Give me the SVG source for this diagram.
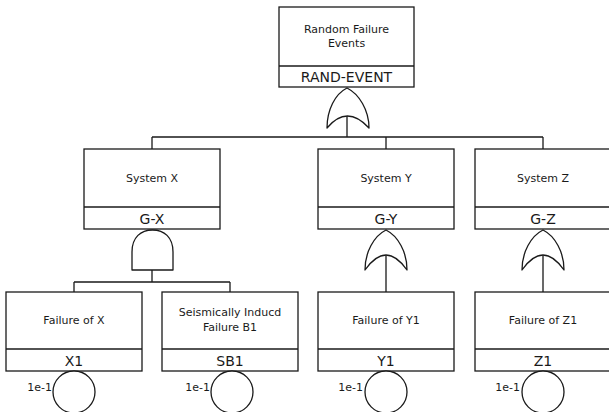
<svg xmlns="http://www.w3.org/2000/svg" width="609" height="412" viewBox="0 0 609 412">
  <style>
    .box { fill: #ffffff; stroke: #1a1a1a; stroke-width: 1.3; }
    .gate { fill: #ffffff; stroke: #1a1a1a; stroke-width: 1.3; stroke-linejoin: round; }
    .wire { fill: none; stroke: #1a1a1a; stroke-width: 1.3; }
    .desc { font-family: "DejaVu Sans", Verdana, sans-serif; font-size: 11px; fill: #1a1a1a; text-anchor: middle; }
    .tag { font-family: "DejaVu Sans", Verdana, sans-serif; font-size: 14px; fill: #1a1a1a; text-anchor: middle; }
    .prob { font-family: "DejaVu Sans", Verdana, sans-serif; font-size: 11px; fill: #1a1a1a; text-anchor: end; }
  </style>
  <rect width="609" height="412" fill="#ffffff"/>

  <!-- connectors -->
  <g id="connectors">
    <path class="wire" d="M347 116 V137 M152 137 H543 M152 137 V149 M386 137 V149 M543 137 V149"/>
    <path class="wire" d="M152 270 V282 M74 282 H230 M74 282 V292 M230 282 V292"/>
    <path class="wire" d="M386 255 V292 M543 255 V292"/>
  </g>

  <!-- top event -->
  <g id="rand-event">
    <rect class="box" x="279" y="7" width="135" height="80"/>
    <line class="wire" x1="279" y1="66" x2="414" y2="66"/>
    <text class="desc" x="346.5" y="33">Random Failure</text>
    <text class="desc" x="346.5" y="47">Events</text>
    <text class="tag" x="346.5" y="82">RAND-EVENT</text>
    <path class="gate" d="M347 88 C335 94 327 110 327 128 Q347 104 369 128 C369 110 359 94 347 88 Z"/>
  </g>

  <!-- intermediate gates -->
  <g id="g-x">
    <rect class="box" x="84" y="149" width="136" height="80"/>
    <line class="wire" x1="84" y1="207" x2="220" y2="207"/>
    <text class="desc" x="152" y="182">System X</text>
    <text class="tag" x="152" y="224">G-X</text>
    <path class="gate" d="M132 270 L132 252 C132 237 141 230 152.5 230 C164 230 173 237 173 252 L173 270 Z"/>
  </g>
  <g id="g-y">
    <rect class="box" x="318" y="149" width="136" height="80"/>
    <line class="wire" x1="318" y1="207" x2="454" y2="207"/>
    <text class="desc" x="386" y="182">System Y</text>
    <text class="tag" x="386" y="224">G-Y</text>
    <path class="gate" d="M386 230 C374 236 365 252 365 270 Q386 240 407 270 C407 252 398 236 386 230 Z"/>
  </g>
  <g id="g-z">
    <rect class="box" x="475" y="149" width="136" height="80"/>
    <line class="wire" x1="475" y1="207" x2="611" y2="207"/>
    <text class="desc" x="543" y="182">System Z</text>
    <text class="tag" x="543" y="224">G-Z</text>
    <path class="gate" d="M543 230 C531 236 522 252 522 270 Q543 240 564 270 C564 252 555 236 543 230 Z"/>
  </g>

  <!-- basic events -->
  <g id="x1">
    <rect class="box" x="6" y="292" width="136" height="79"/>
    <line class="wire" x1="6" y1="349" x2="142" y2="349"/>
    <text class="desc" x="74" y="324">Failure of X</text>
    <text class="tag" x="74" y="366">X1</text>
    <circle class="gate" cx="74" cy="392" r="21"/>
    <text class="prob" x="52" y="391">1e-1</text>
  </g>
  <g id="sb1">
    <rect class="box" x="162" y="292" width="136" height="79"/>
    <line class="wire" x1="162" y1="349" x2="298" y2="349"/>
    <text class="desc" x="230" y="316">Seismically Inducd</text>
    <text class="desc" x="230" y="331">Failure B1</text>
    <text class="tag" x="230" y="366">SB1</text>
    <circle class="gate" cx="232" cy="392" r="21"/>
    <text class="prob" x="210" y="391">1e-1</text>
  </g>
  <g id="y1">
    <rect class="box" x="318" y="292" width="136" height="79"/>
    <line class="wire" x1="318" y1="349" x2="454" y2="349"/>
    <text class="desc" x="386" y="324">Failure of Y1</text>
    <text class="tag" x="386" y="366">Y1</text>
    <circle class="gate" cx="386" cy="392" r="21"/>
    <text class="prob" x="363" y="391">1e-1</text>
  </g>
  <g id="z1">
    <rect class="box" x="475" y="292" width="136" height="79"/>
    <line class="wire" x1="475" y1="349" x2="611" y2="349"/>
    <text class="desc" x="543" y="324">Failure of Z1</text>
    <text class="tag" x="543" y="366">Z1</text>
    <circle class="gate" cx="543" cy="392" r="21"/>
    <text class="prob" x="520" y="391">1e-1</text>
  </g>
</svg>
